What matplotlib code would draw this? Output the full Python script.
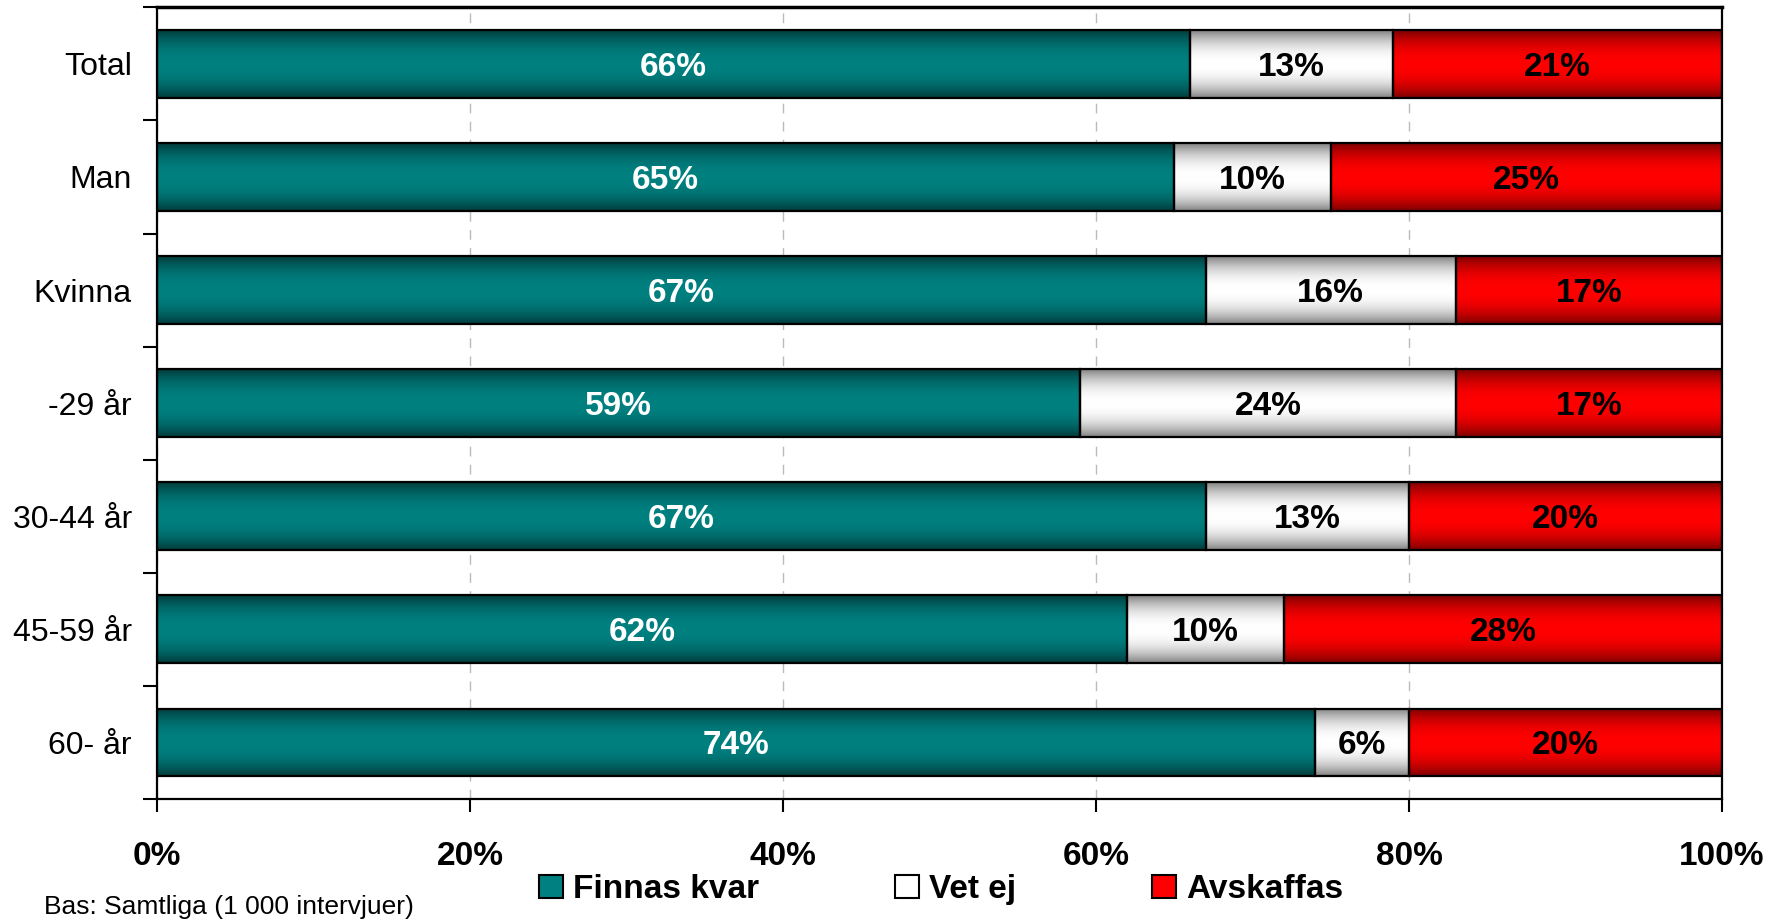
import numpy as np
import matplotlib
matplotlib.use("Agg")
import matplotlib.pyplot as plt
from matplotlib.patches import Patch
from matplotlib.colors import to_rgb

plt.rcParams['font.family'] = ['Liberation Sans', 'DejaVu Sans']

categories = ['Total', 'Man', 'Kvinna', '-29 år', '30-44 år', '45-59 år', '60- år']
finnas_kvar = [66, 65, 67, 59, 67, 62, 74]
vet_ej = [13, 10, 16, 24, 13, 10, 6]
avskaffas = [21, 25, 17, 17, 20, 28, 20]
series_names = ['Finnas kvar', 'Vet ej', 'Avskaffas']
x_ticks = [0, 20, 40, 60, 80, 100]
x_tick_labels = ['0%', '20%', '40%', '60%', '80%', '100%']

centers = ['#008080', '#ffffff', '#ff0000']
edges = ['#003a3a', '#808080', '#7a0000']
label_colors = ['white', 'black', 'black']

fig = plt.figure(figsize=(17.79, 9.19), dpi=100)
ax = fig.add_axes([0.0882, 0.1306, 0.968 - 0.0882, 0.992 - 0.1306])

y = np.arange(len(categories))
data = [finnas_kvar, vet_ej, avskaffas]
left = np.zeros(len(categories))


def gradient(c_center, c_edge, n=200):
    s = np.linspace(0, 1, n)
    t = np.abs(2 * s - 1) ** 2.2
    cc = np.array(to_rgb(c_center))
    ce = np.array(to_rgb(c_edge))
    g = cc[None, :] * (1 - t[:, None]) + ce[None, :] * t[:, None]
    return g[:, None, :]


for i, vals in enumerate(data):
    bars = ax.barh(y, vals, left=left, height=0.6, color='none',
                   edgecolor='black', linewidth=1.6, zorder=3)
    grad = gradient(centers[i], edges[i])
    for b, v in zip(bars, vals):
        x0, y0 = b.get_x(), b.get_y()
        w, h = b.get_width(), b.get_height()
        im = ax.imshow(grad, extent=(x0, x0 + w, y0, y0 + h), aspect='auto',
                       origin='lower', zorder=2, interpolation='bilinear')
        im.set_clip_path(b)
        ax.text(x0 + w / 2, y0 + h / 2, f'{v}%', ha='center', va='center_baseline',
                fontsize=24, fontweight='bold', color=label_colors[i], zorder=4)
    left = left + np.array(vals)

ax.set_xlim(0, 100)
ax.set_ylim(len(categories) - 0.5, -0.5)

ax.set_xticks(x_ticks)
ax.set_xticklabels(x_tick_labels, fontsize=24, fontweight='bold')
ax.tick_params(axis='x', direction='out', length=9, width=1.5, pad=21)
ax.set_yticks(y)
ax.set_yticklabels(categories, fontsize=23)
ax.tick_params(axis='y', which='major', length=0, pad=18)
ax.set_yticks(np.arange(-0.5, len(categories), 1), minor=True)
ax.tick_params(axis='y', which='minor', direction='out', length=10, width=1.5)

ax.grid(axis='x', linestyle=(0, (7, 6)), color='#bbbbbb', linewidth=1.0, zorder=0)
ax.set_axisbelow(True)
for s in ax.spines.values():
    s.set_linewidth(1.6)
ax.spines['top'].set_linewidth(2.5)

handles = [Patch(facecolor=centers[i], edgecolor='black', linewidth=1.5)
           for i in range(3)]
leg = fig.legend(handles, series_names, loc='center', bbox_to_anchor=(0.529, 0.032),
                 ncol=3, frameon=False, prop={'size': 24, 'weight': 'bold'},
                 handlelength=0.7, handleheight=0.7, handletextpad=0.3,
                 columnspacing=4.1)

fig.text(0.025, 0.013, 'Bas: Samtliga (1 000 intervjuer)', fontsize=19,
         ha='left', va='center')

fig.savefig('out.png', dpi=100)
